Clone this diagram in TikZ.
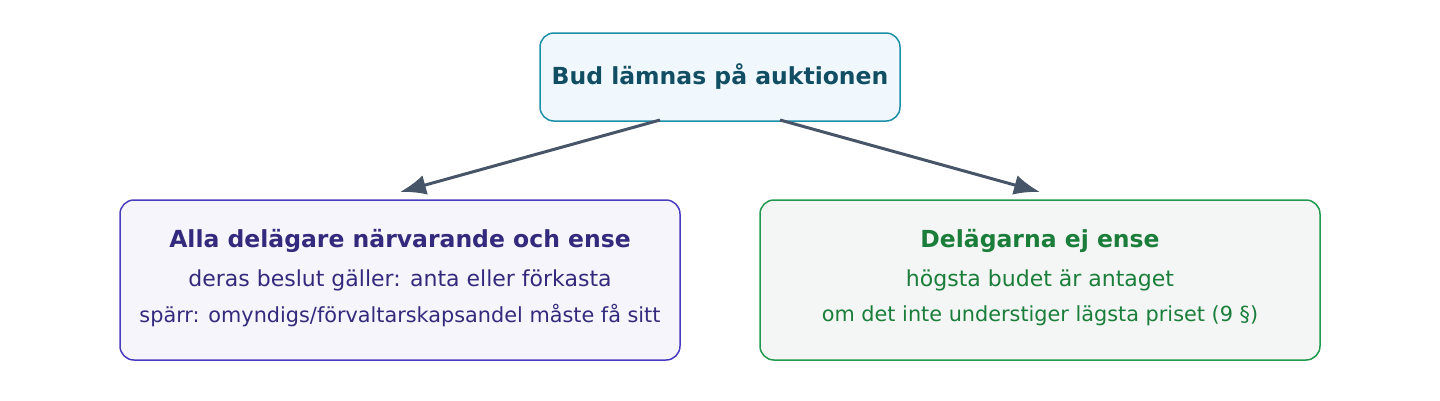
\documentclass[tikz,border=0pt]{standalone}
\usepackage{fontspec}
\setmainfont{DejaVu Sans}
\definecolor{topfill}{HTML}{F0F8FD}
\definecolor{topdraw}{HTML}{1C8FA8}
\definecolor{toptext}{HTML}{124E63}
\definecolor{leftfill}{HTML}{F6F5FB}
\definecolor{leftdraw}{HTML}{4A3CBF}
\definecolor{lefttext}{HTML}{342A7D}
\definecolor{rightfill}{HTML}{F3F6F4}
\definecolor{rightdraw}{HTML}{22994C}
\definecolor{righttext}{HTML}{1A7E3A}
\definecolor{arrowcol}{HTML}{475569}
\tikzstyle{box}=[rectangle,rounded corners=14pt,line width=1.5pt,align=center,inner sep=0pt]
\tikzstyle{arrow}=[draw,line width=3pt,arrowcol,-{Latex[length=26pt,width=20pt]}]
\usetikzlibrary{arrows.meta}
\begin{document}
\begin{tikzpicture}[x=1pt,y=-1pt]
  \useasboundingbox (0,0) rectangle (1440,400);
  % top node and the two outcomes
  \node[box,draw=topdraw,fill=topfill,minimum width=360pt,minimum height=88pt,text=toptext,font=\fontsize{23.5}{26}\selectfont\bfseries] (bud) at (720,77) {Bud lämnas på auktionen};
  \node[box,draw=leftdraw,fill=leftfill,minimum width=560pt,minimum height=160pt] (ense) at (400,280) {};
  \node[box,draw=rightdraw,fill=rightfill,minimum width=560pt,minimum height=160pt] (ejense) at (1040,280) {};
  % texts inside the boxes
  \node[text=lefttext,font=\fontsize{23.5}{26}\selectfont\bfseries] (ense-t) at (400,241) {Alla delägare närvarande och ense};
  \node[text=lefttext,font=\fontsize{22}{25}\selectfont] (ense-a) at (400,280) {deras beslut gäller: anta eller förkasta};
  \node[text=lefttext,font=\fontsize{20.8}{24}\selectfont] (ense-b) at (400,316) {spärr: omyndigs/förvaltarskapsandel måste få sitt};
  \node[text=righttext,font=\fontsize{23.5}{26}\selectfont\bfseries] (ejense-t) at (1040,241) {Delägarna ej ense};
  \node[text=righttext,font=\fontsize{22}{25}\selectfont] (ejense-a) at (1040,280) {högsta budet är antaget};
  \node[text=righttext,font=\fontsize{20.8}{24}\selectfont] (ejense-b) at (1040,316) {om det inte understiger lägsta priset (9 §)};
  % arrow ends
  \coordinate (bud-l) at (660,120);
  \coordinate (bud-r) at (780,120);
  \coordinate (ense-in) at (400,192);
  \coordinate (ejense-in) at (1040,192);
  \foreach \source/\dest in {bud-l/ense-in, bud-r/ejense-in}
    \path[arrow] (\source) -- (\dest);
\end{tikzpicture}
\end{document}
